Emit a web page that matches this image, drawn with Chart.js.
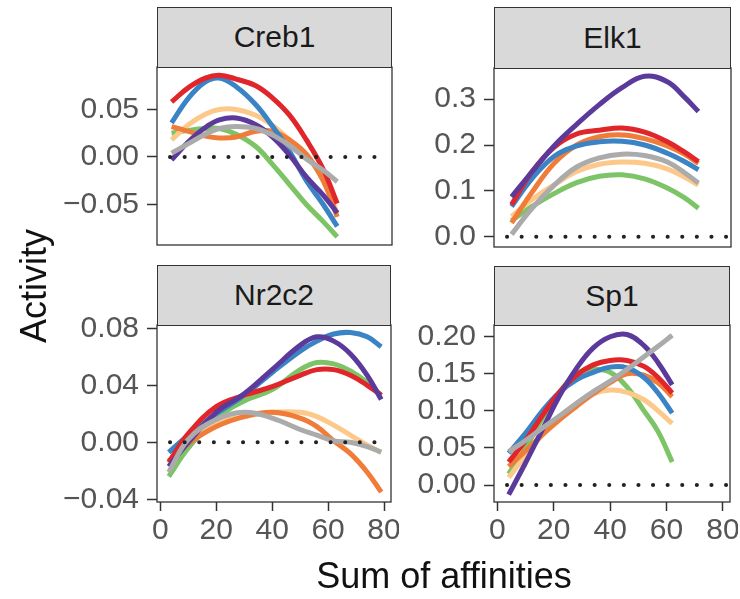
<!DOCTYPE html>
<html>
<head>
<meta charset="utf-8">
<script src="https://cdn.jsdelivr.net/npm/chart.js@4.4.0/dist/chart.umd.min.js"></script>
<style>
  body { margin: 0; width: 740px; height: 599px; background: #fff; position: relative; overflow: hidden;
         font-family: 'Liberation Sans', Arial, sans-serif; }
  canvas { position: absolute; }
  .strip { position: absolute; background: #d9d9d9; border: 1.3px solid #333; box-sizing: border-box;
           text-align: center; color: #1a1a1a; font-size: 30px; }
  .title { position: absolute; color: #111; font-size: 36px; white-space: nowrap; }
</style>
</head>
<body>
<div class="title" id="ytitle" style="left:34px;top:286px;transform:translate(-50%,-50%) rotate(-90deg);">Activity</div>
<div class="title" style="left:444px;top:576px;transform:translate(-50%,-50%);">Sum of affinities</div>
<script>
// shared x ticks
var xTicks = [0, 20, 40, 60, 80];

// Creb1
var crebX      = [4, 10, 16, 21, 27, 34, 40, 46, 52, 58, 63];
var crebGray   = [0.004, 0.014, 0.024, 0.030, 0.032, 0.030, 0.023, 0.012, -0.002, -0.014, -0.026];
var crebPurple = [-0.003, 0.016, 0.031, 0.039, 0.041, 0.034, 0.021, 0.002, -0.021, -0.040, -0.059];
var crebRed    = [0.058, 0.073, 0.083, 0.086, 0.082, 0.075, 0.062, 0.044, 0.018, -0.013, -0.049];
var crebBlue   = [0.036, 0.062, 0.079, 0.083, 0.074, 0.055, 0.032, 0.006, -0.025, -0.050, -0.073];
var crebOrange = [0.032, 0.027, 0.022, 0.020, 0.021, 0.027, 0.027, 0.018, 0.003, -0.025, -0.063];
var crebYellow = [0.018, 0.034, 0.045, 0.050, 0.050, 0.044, 0.033, 0.018, 0.002, -0.025, -0.059];
var crebGreen  = [0.025, 0.028, 0.030, 0.030, 0.024, 0.011, -0.008, -0.029, -0.050, -0.068, -0.084];
var crebTicks  = [-0.05, 0, 0.05];

// Elk1
var elkX      = [5, 12, 20, 28, 36, 44, 52, 60, 66, 71];
var elkGray   = [0.005, 0.060, 0.112, 0.152, 0.172, 0.180, 0.177, 0.163, 0.140, 0.117];
var elkPurple = [0.087, 0.140, 0.198, 0.245, 0.288, 0.325, 0.350, 0.338, 0.305, 0.273];
var elkRed    = [0.070, 0.140, 0.195, 0.224, 0.232, 0.237, 0.228, 0.207, 0.185, 0.164];
var elkBlue   = [0.066, 0.125, 0.175, 0.198, 0.207, 0.208, 0.200, 0.182, 0.164, 0.146];
var elkOrange = [0.030, 0.095, 0.160, 0.200, 0.218, 0.222, 0.214, 0.198, 0.180, 0.160];
var elkYellow = [0.044, 0.080, 0.113, 0.142, 0.158, 0.163, 0.160, 0.148, 0.130, 0.113];
var elkGreen  = [0.035, 0.065, 0.094, 0.118, 0.132, 0.135, 0.126, 0.106, 0.085, 0.062];
var elkTicks  = [0, 0.1, 0.2, 0.3];

// Nr2c2
var nrX      = [3, 10, 20, 30, 40, 50, 56, 62, 68, 74, 79];
var nrGray   = [-0.021, 0.002, 0.016, 0.021, 0.017, 0.009, 0.005, 0.001, 0.000, -0.003, -0.007];
var nrPurple = [-0.017, 0.000, 0.021, 0.034, 0.051, 0.068, 0.074, 0.071, 0.062, 0.047, 0.030];
var nrRed    = [-0.014, 0.006, 0.025, 0.033, 0.039, 0.047, 0.051, 0.051, 0.047, 0.040, 0.033];
var nrBlue   = [-0.007, 0.005, 0.020, 0.033, 0.049, 0.064, 0.071, 0.076, 0.077, 0.074, 0.067];
var nrOrange = [-0.013, -0.001, 0.011, 0.018, 0.021, 0.017, 0.011, 0.001, -0.008, -0.021, -0.035];
var nrYellow = [-0.015, 0.000, 0.013, 0.018, 0.021, 0.021, 0.018, 0.012, 0.005, -0.002, -0.007];
var nrGreen  = [-0.024, -0.004, 0.017, 0.029, 0.037, 0.051, 0.056, 0.055, 0.050, 0.042, 0.033];
var nrTicks  = [-0.04, 0, 0.04, 0.08];

// Sp1
var spX      = [4, 10, 16, 22, 28, 34, 40, 46, 52, 57, 62];
var spGray   = [0.045, 0.060, 0.077, 0.093, 0.110, 0.126, 0.140, 0.156, 0.173, 0.187, 0.202];
var spPurple = [-0.013, 0.030, 0.075, 0.120, 0.157, 0.185, 0.200, 0.203, 0.188, 0.165, 0.135];
var spRed    = [0.031, 0.060, 0.094, 0.125, 0.148, 0.162, 0.168, 0.168, 0.160, 0.145, 0.124];
var spBlue   = [0.043, 0.070, 0.100, 0.125, 0.142, 0.152, 0.159, 0.158, 0.145, 0.124, 0.097];
var spOrange = [0.025, 0.046, 0.068, 0.088, 0.106, 0.123, 0.138, 0.150, 0.148, 0.138, 0.119];
var spYellow = [0.010, 0.040, 0.068, 0.092, 0.110, 0.123, 0.128, 0.125, 0.115, 0.100, 0.083];
var spGreen  = [0.015, 0.050, 0.090, 0.125, 0.150, 0.156, 0.152, 0.132, 0.100, 0.072, 0.031];
var spTicks  = [0, 0.05, 0.10, 0.15, 0.20];

// first listed is drawn on top
var colors = {
  gray: '#ababab', purple: '#5b3a9b', red: '#e0262a', blue: '#3a83c4',
  orange: '#f07c3a', yellow: '#fcc98a', green: '#7cc466'
};

var panels = [
  { name: 'Creb1', x: crebX, ticks: crebTicks, dec: 2, min: -0.0926, max: 0.0947,
    box: [157, 67, 392, 245], stripTop: 7, xAxis: false,
    ys: { gray: crebGray, purple: crebPurple, red: crebRed, blue: crebBlue, orange: crebOrange, yellow: crebYellow, green: crebGreen } },
  { name: 'Elk1', x: elkX, ticks: elkTicks, dec: 1, min: -0.0225, max: 0.368,
    box: [494, 68, 731, 247], stripTop: 7, xAxis: false,
    ys: { gray: elkGray, purple: elkPurple, red: elkRed, blue: elkBlue, orange: elkOrange, yellow: elkYellow, green: elkGreen } },
  { name: 'Nr2c2', x: nrX, ticks: nrTicks, dec: 2, min: -0.0419, max: 0.0823,
    box: [157, 325, 391, 502], stripTop: 265, xAxis: true,
    ys: { gray: nrGray, purple: nrPurple, red: nrRed, blue: nrBlue, orange: nrOrange, yellow: nrYellow, green: nrGreen } },
  { name: 'Sp1', x: spX, ticks: spTicks, dec: 2, min: -0.0229, max: 0.2158,
    box: [494, 325, 730, 502], stripTop: 266, xAxis: true,
    ys: { gray: spGray, purple: spPurple, red: spRed, blue: spBlue, orange: spOrange, yellow: spYellow, green: spGreen } }
];

var zeroLine = {
  id: 'zeroLine',
  afterDatasetsDraw: function(chart) {
    var a = chart.chartArea, ctx = chart.ctx;
    var py = chart.scales.y.getPixelForValue(0);
    ctx.save();
    ctx.setLineDash([0.1, 14.5]);
    ctx.lineCap = 'round';
    ctx.lineWidth = 4;
    ctx.strokeStyle = '#222';
    ctx.beginPath();
    ctx.moveTo(a.left + 13, py);
    ctx.lineTo(a.right - 3, py);
    ctx.stroke();
    ctx.restore();
  }
};

var frame = {
  id: 'frame',
  afterDraw: function(chart) {
    var a = chart.chartArea, ctx = chart.ctx;
    ctx.save();
    ctx.lineWidth = 1.3;
    ctx.strokeStyle = '#333';
    ctx.strokeRect(a.left, a.top, a.width, a.height);
    ctx.restore();
  }
};

var AXW = 110, PAD = 8, XAH = 56;
var tickFont = { family: "'Liberation Sans', Arial, sans-serif", size: 30 };

panels.forEach(function(p) {
  var L = p.box[0], T = p.box[1], R = p.box[2], B = p.box[3];

  var strip = document.createElement('div');
  strip.className = 'strip';
  strip.style.left = L + 'px';
  strip.style.top = p.stripTop + 'px';
  strip.style.width = (R - L) + 'px';
  strip.style.height = (T - p.stripTop + 1) + 'px';
  strip.style.lineHeight = (T - p.stripTop - 2) + 'px';
  strip.textContent = p.name;
  document.body.appendChild(strip);

  var cv = document.createElement('canvas');
  var w = (R - L) + AXW + PAD, h = (B - T) + PAD + (p.xAxis ? XAH : PAD);
  cv.width = w; cv.height = h;
  cv.style.left = (L - AXW) + 'px';
  cv.style.top = (T - PAD) + 'px';
  document.body.insertBefore(cv, document.getElementById('ytitle'));

  var datasets = Object.keys(colors).map(function(k) {
    return {
      label: k,
      data: p.x.map(function(xv, i) { return { x: xv, y: p.ys[k][i] }; }),
      borderColor: colors[k],
      borderWidth: 5,
      pointRadius: 0,
      tension: 0.4,
      fill: false
    };
  });

  new Chart(cv, {
    type: 'line',
    data: { datasets: datasets },
    options: {
      responsive: false,
      animation: false,
      layout: { padding: { top: PAD, right: PAD, left: 0, bottom: p.xAxis ? 0 : PAD } },
      plugins: { legend: { display: false }, tooltip: { enabled: false } },
      scales: {
        x: {
          type: 'linear', min: -1.2, max: 82.5,
          display: p.xAxis,
          afterFit: function(s) {
            if (p.xAxis) s.height = XAH;
            s.paddingLeft = 0; s.paddingRight = 0;
          },
          afterBuildTicks: function(s) { s.ticks = xTicks.map(function(v) { return { value: v }; }); },
          grid: { drawOnChartArea: false, drawTicks: true, tickLength: 9, tickWidth: 1.5, tickColor: '#333' },
          border: { display: false },
          ticks: { color: '#555', font: tickFont, padding: 2, maxRotation: 0, autoSkip: false,
                   callback: function(v) { return String(v); } }
        },
        y: {
          type: 'linear', min: p.min, max: p.max,
          afterFit: function(s) { s.width = AXW; s.paddingTop = 0; s.paddingBottom = 0; },
          afterBuildTicks: function(s) { s.ticks = p.ticks.map(function(v) { return { value: v }; }); },
          grid: { drawOnChartArea: false, drawTicks: true, tickLength: 10, tickWidth: 1.5, tickColor: '#333' },
          border: { display: false },
          ticks: { color: '#555', font: tickFont, padding: 8, autoSkip: false,
                   callback: function(v) {
                     var s = Math.abs(v).toFixed(p.dec);
                     return v < -1e-9 ? '\u2212' + s : s;
                   } }
        }
      }
    },
    plugins: [zeroLine, frame]
  });
});
</script>
</body>
</html>
